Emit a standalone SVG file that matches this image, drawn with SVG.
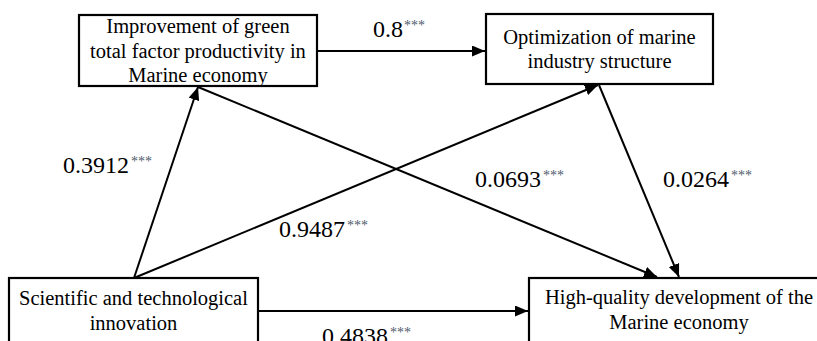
<svg xmlns="http://www.w3.org/2000/svg" width="817" height="341" viewBox="0 0 817 341">
<style>
.box{fill:#fff;stroke:#000;stroke-width:2.2}
.lbl{font-family:"Liberation Serif","Times New Roman",serif;font-size:20.5px;fill:#000;text-anchor:middle}
.num{font-family:"Liberation Serif","Times New Roman",serif;font-size:24px;fill:#000}
.sig{font-size:14px;fill:#4f5b6b}
.edge{stroke:#000;stroke-width:2;fill:none;marker-end:url(#ah)}
</style>
<defs>
<marker id="ah" markerUnits="userSpaceOnUse" markerWidth="13" markerHeight="11" refX="13" refY="5.5" orient="auto">
<path d="M0,0 L13,5.5 L0,11 z" fill="#000"/>
</marker>
</defs>
<rect width="817" height="341" fill="#fff"/>
<g id="connectors">
<path class="edge" d="M317,51 L485,51"/>
<path class="edge" d="M134,278 L198,87"/>
<path class="edge" d="M134,278 L598,85"/>
<path class="edge" d="M198,87 L657,277"/>
<path class="edge" d="M599,85 L679,277"/>
<path class="edge" d="M258,311 L528,311"/>
</g>
<g id="node-green-tfp">
<rect class="box" x="79" y="15" width="238" height="71"/>
<text class="lbl" x="198" y="33">Improvement of green</text>
<text class="lbl" x="198" y="58">total factor productivity in</text>
<text class="lbl" x="198" y="82">Marine economy</text>
</g>
<g id="node-industry">
<rect class="box" x="486" y="14" width="227" height="70"/>
<text class="lbl" x="599.5" y="44">Optimization of marine</text>
<text class="lbl" x="599.5" y="68">industry structure</text>
</g>
<g id="node-innovation">
<rect class="box" x="9" y="278" width="249" height="80"/>
<text class="lbl" x="133.5" y="305">Scientific and technological</text>
<text class="lbl" x="133.5" y="330">innovation</text>
</g>
<g id="node-hqd">
<rect class="box" x="529" y="278" width="300" height="80"/>
<text class="lbl" x="679" y="304">High-quality development of the</text>
<text class="lbl" x="679" y="329">Marine economy</text>
</g>
<g id="edge-labels">
<text class="num" x="373" y="37">0.8<tspan class="sig" dy="-7" dx="1">***</tspan></text>
<text class="num" x="63" y="173">0.3912<tspan class="sig" dy="-7" dx="2">***</tspan></text>
<text class="num" x="279" y="237">0.9487<tspan class="sig" dy="-7" dx="2">***</tspan></text>
<text class="num" x="475" y="187">0.0693<tspan class="sig" dy="-7" dx="2">***</tspan></text>
<text class="num" x="663" y="187">0.0264<tspan class="sig" dy="-7" dx="2">***</tspan></text>
<text class="num" x="322" y="344">0.4838<tspan class="sig" dy="-7" dx="2">***</tspan></text>
</g>
</svg>
